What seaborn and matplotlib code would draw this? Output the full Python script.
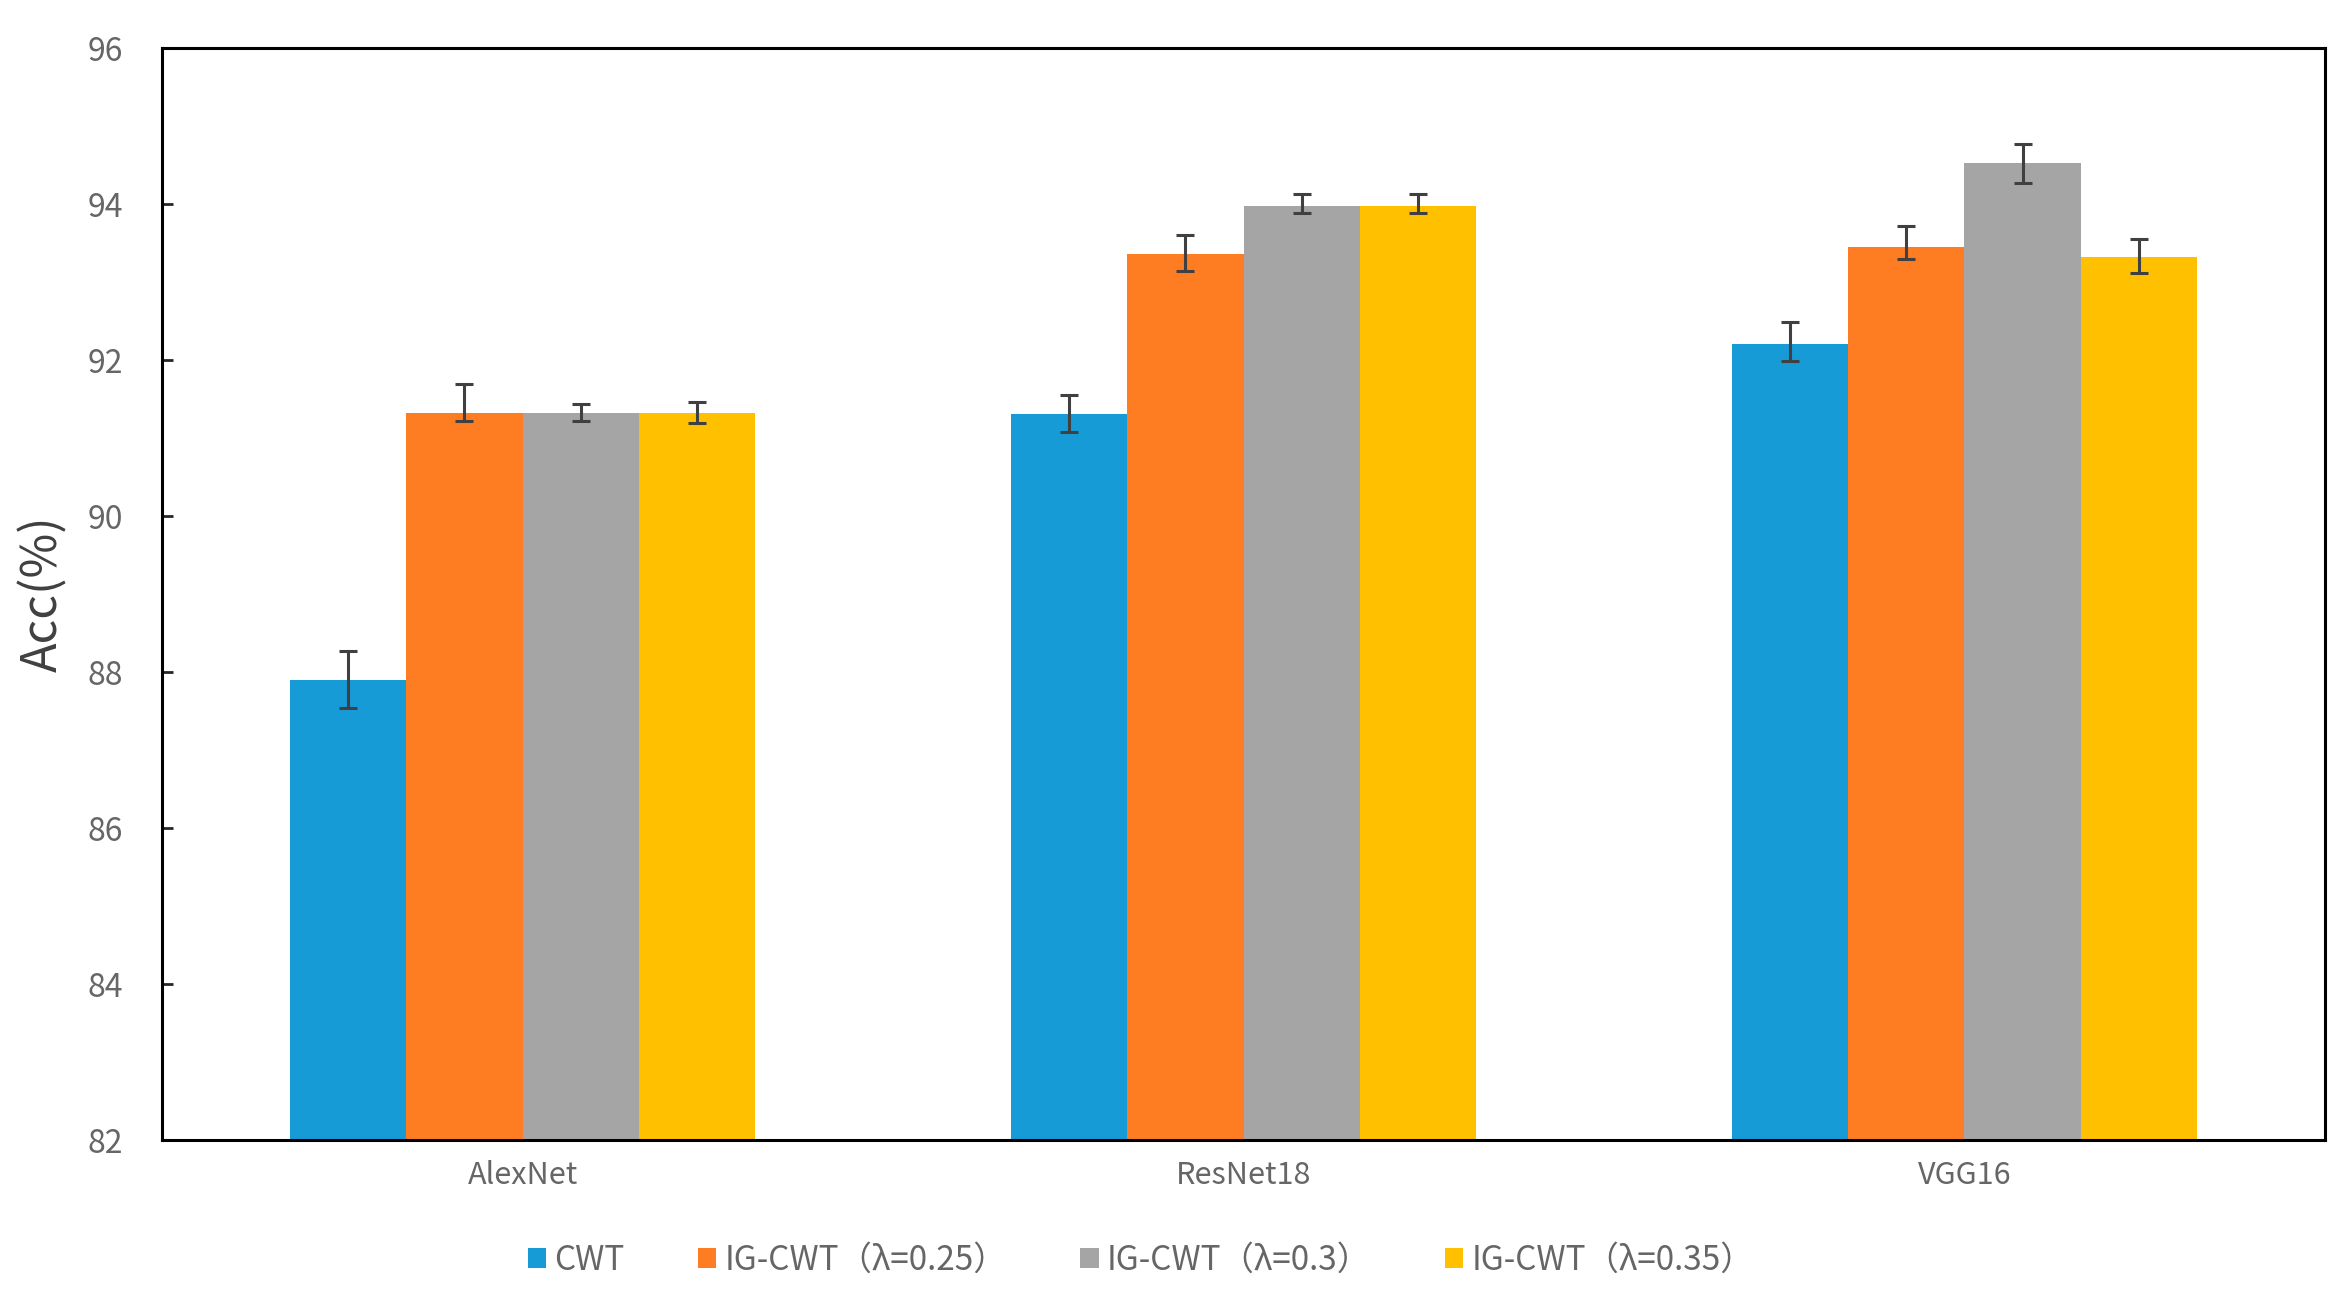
import pandas as pd
import numpy as np
import matplotlib
matplotlib.use("Agg")
import matplotlib.pyplot as plt
import seaborn as sns
from matplotlib.patches import Patch

# data
models = ["AlexNet", "ResNet18", "VGG16"]
methods = ["CWT", "IG-CWT（λ=0.25）", "IG-CWT（λ=0.3）", "IG-CWT（λ=0.35）"]

cwt = [87.90, 91.31, 92.21]
ig_025 = [91.32, 93.36, 93.45]
ig_030 = [91.32, 93.98, 94.53]
ig_035 = [91.32, 93.98, 93.32]

# error bar extents (below / above the bar top)
err_low = {
    "CWT": [0.36, 0.23, 0.22],
    "IG-CWT（λ=0.25）": [0.10, 0.22, 0.15],
    "IG-CWT（λ=0.3）": [0.10, 0.09, 0.26],
    "IG-CWT（λ=0.35）": [0.13, 0.09, 0.20],
}
err_high = {
    "CWT": [0.37, 0.25, 0.28],
    "IG-CWT（λ=0.25）": [0.38, 0.25, 0.27],
    "IG-CWT（λ=0.3）": [0.12, 0.15, 0.24],
    "IG-CWT（λ=0.35）": [0.14, 0.15, 0.24],
}

colors = ["#179BD7", "#FE7D23", "#A5A5A5", "#FFC000"]

series = dict(zip(methods, [cwt, ig_025, ig_030, ig_035]))
df = pd.DataFrame(
    [(m, meth, series[meth][i]) for i, m in enumerate(models) for meth in methods],
    columns=["model", "method", "acc"],
)

sns.set_theme(style="white")
plt.rcParams["font.family"] = ["Noto Sans CJK SC", "DejaVu Sans"]

fig = plt.figure(figsize=(23.52, 13.03), dpi=100)
ax = fig.add_axes([0.0689, 0.125, 0.9196, 0.838])

sns.barplot(data=df, x="model", y="acc", hue="method", order=models,
            hue_order=methods, palette=colors, saturation=1, width=0.645,
            linewidth=0, legend=False, ax=ax)

# error bars on top of the bars, matched by bar position
bars = sorted(ax.patches, key=lambda p: p.get_x())
for k, p in enumerate(bars):
    i, j = divmod(k, len(methods))
    meth = methods[j]
    xc = p.get_x() + p.get_width() / 2
    yv = p.get_height()
    ax.errorbar(xc, yv, yerr=[[err_low[meth][i]], [err_high[meth][i]]],
                fmt="none", ecolor="#404040", elinewidth=2.2, capsize=6.5,
                capthick=2.2, zorder=5)

ax.set_ylim(82, 96)
ax.set_xlim(-0.5, 2.5)
ax.set_yticks(np.arange(82, 97, 2))
ax.set_xlabel("")
ax.set_ylabel("Acc(%)", fontsize=35, color="#404040", labelpad=14)

for side in ["top", "bottom", "left", "right"]:
    ax.spines[side].set_visible(True)
    ax.spines[side].set_color("black")
    ax.spines[side].set_linewidth(2.2)

ax.tick_params(axis="y", direction="in", length=8, width=2, left=True,
               labelsize=23, labelcolor="#666666", pad=28)
ax.tick_params(axis="x", length=0, labelsize=22, labelcolor="#666666", pad=14)

handles = [Patch(facecolor=c, edgecolor="none", label=m) for c, m in zip(colors, methods)]
fig.legend(handles=handles, loc="center", bbox_to_anchor=(0.485, 0.033), ncol=4,
           frameon=False, fontsize=24, handlelength=0.55, handleheight=0.55,
           handletextpad=0.25, columnspacing=2.2, labelcolor="#666666")

fig.savefig("out.png", dpi=100)
